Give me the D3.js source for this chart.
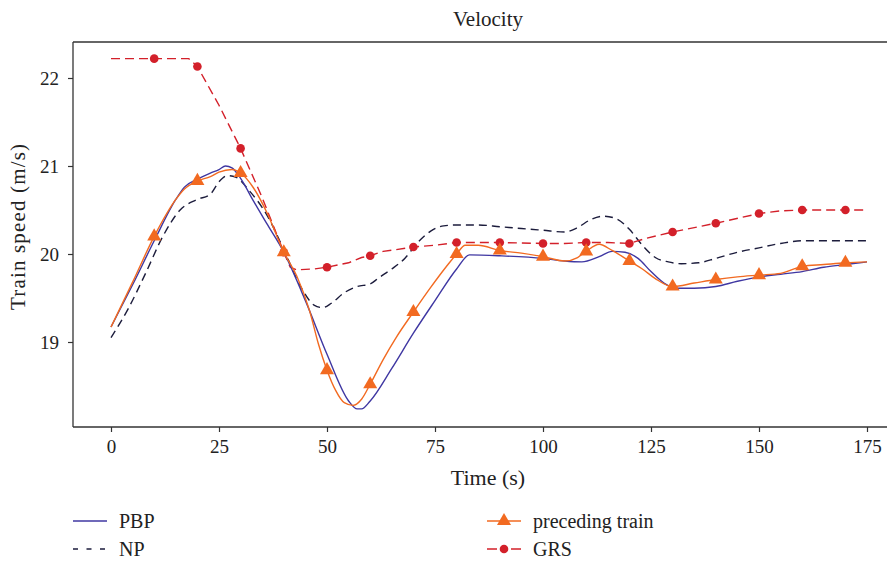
<!DOCTYPE html>
<html>
<head>
<meta charset="utf-8">
<script src="https://cdn.jsdelivr.net/npm/d3@7"></script>
<style>
  html, body { margin: 0; padding: 0; background: #fff; }
  svg { display: block; }
  text { font-family: "Liberation Serif", "Times New Roman", serif; fill: #222; }
</style>
</head>
<body>
<svg id="chart" width="887" height="561"></svg>
<script>
// ---- data ----------------------------------------------------------
const xTicks = [0, 25, 50, 75, 100, 125, 150, 175];
const yTicks = [19, 20, 21, 22];
const markerTimes = [10, 20, 30, 40, 50, 60, 70, 80, 90, 100, 110, 120, 130, 140, 150, 160, 170];

// PBP controlled train
const pbpTime  = [0, 5, 10, 15, 17, 20, 23, 25, 26.5, 28, 30, 33, 36, 40, 45, 50, 55, 57, 58, 60, 65, 70, 75, 80, 83, 90, 100, 105, 109, 113, 116, 119, 122, 125, 128, 131, 135, 140, 145, 150, 155, 160, 165, 170, 175];
const pbpSpeed = [19.17, 19.65, 20.15, 20.62, 20.76, 20.85, 20.92, 20.96, 21.0, 20.98, 20.86, 20.6, 20.35, 20.02, 19.47, 18.86, 18.33, 18.24, 18.24, 18.33, 18.7, 19.1, 19.47, 19.83, 19.99, 19.98, 19.95, 19.92, 19.91, 19.97, 20.03, 20.02, 19.95, 19.8, 19.67, 19.61, 19.61, 19.63, 19.69, 19.74, 19.77, 19.8, 19.85, 19.88, 19.91];

// NP controlled train
const npTime  = [0, 4, 8, 12, 16, 20, 23, 25, 27, 29, 32, 36, 40, 44, 47, 49, 51, 54, 57, 60, 62, 65, 68, 71, 74, 77, 80, 85, 90, 95, 100, 105, 108, 111, 114, 117, 120, 123, 126, 129, 132, 136, 140, 145, 150, 155, 160, 165, 170, 175];
const npSpeed = [19.05, 19.38, 19.78, 20.2, 20.5, 20.62, 20.68, 20.82, 20.89, 20.87, 20.72, 20.45, 20.05, 19.62, 19.42, 19.39, 19.44, 19.56, 19.63, 19.66, 19.73, 19.83, 19.95, 20.13, 20.26, 20.32, 20.33, 20.33, 20.31, 20.29, 20.27, 20.25, 20.3, 20.39, 20.43, 20.4, 20.28, 20.1, 19.96, 19.91, 19.89, 19.9, 19.95, 20.02, 20.07, 20.12, 20.15, 20.15, 20.15, 20.15];

// preceding train
const precTime  = [0, 5, 10, 15, 17, 20, 23, 25, 28, 30, 33, 36, 40, 43, 46, 48, 50, 52, 54, 56, 58, 60, 63, 66, 70, 74, 78, 80, 82, 85, 90, 95, 100, 105, 108, 110, 113, 116, 120, 123, 126, 130, 135, 140, 145, 150, 155, 160, 165, 170, 175];
const precSpeed = [19.17, 19.68, 20.2, 20.62, 20.74, 20.83, 20.88, 20.93, 20.96, 20.92, 20.75, 20.48, 20.02, 19.75, 19.35, 18.98, 18.68, 18.45, 18.31, 18.28, 18.35, 18.52, 18.8, 19.05, 19.34, 19.62, 19.88, 20.0, 20.1, 20.1, 20.04, 20.01, 19.97, 19.92, 19.96, 20.03, 20.11, 20.04, 19.92, 19.83, 19.72, 19.63, 19.67, 19.71, 19.74, 19.76, 19.78, 19.86, 19.88, 19.9, 19.91];

// GRS controlled train
const grsTime  = [0, 10, 18, 20, 25, 30, 35, 40, 41.5, 43, 47, 50, 55, 58, 60, 63, 66, 70, 75, 80, 90, 100, 105, 110, 115, 120, 124, 130, 140, 150, 155, 160, 170, 175];
const grsSpeed = [22.22, 22.22, 22.22, 22.13, 21.69, 21.2, 20.64, 20.02, 19.85, 19.82, 19.83, 19.85, 19.9, 19.96, 19.98, 20.03, 20.05, 20.08, 20.1, 20.13, 20.13, 20.12, 20.12, 20.13, 20.13, 20.12, 20.18, 20.25, 20.35, 20.46, 20.49, 20.5, 20.5, 20.5];

// ---- layout --------------------------------------------------------
const frame = { left: 73, top: 42, right: 887, bottom: 427 };
const svg = d3.select("#chart");

const x = d3.scaleLinear().domain([0, 175]).range([111, 867]);
const y = d3.scaleLinear().domain([19, 22]).range([342, 78]);

const colors = { pbp: "#3f37a2", np: "#1c1c3c", prec: "#f26a21", grs: "#d3202a" };

// frame lines (top, left, bottom)
const frameG = svg.append("g").attr("stroke", "#333").attr("stroke-width", 1.3);
frameG.append("line").attr("x1", frame.left).attr("x2", frame.right).attr("y1", frame.top).attr("y2", frame.top);
frameG.append("line").attr("x1", frame.left).attr("x2", frame.left).attr("y1", frame.top).attr("y2", frame.bottom);
frameG.append("line").attr("x1", frame.left).attr("x2", frame.right).attr("y1", frame.bottom).attr("y2", frame.bottom);

// axes
const xAxis = svg.append("g")
  .attr("transform", `translate(0,${frame.bottom})`)
  .call(d3.axisBottom(x).tickValues(xTicks).tickSize(5).tickPadding(8).tickFormat(d3.format("d")));
const yAxis = svg.append("g")
  .attr("transform", `translate(${frame.left},0)`)
  .call(d3.axisLeft(y).tickValues(yTicks).tickSize(5).tickPadding(9).tickFormat(d3.format("d")));
[xAxis, yAxis].forEach(g => {
  g.select(".domain").remove();
  g.selectAll(".tick line").attr("stroke", "#333").attr("stroke-width", 1.2);
  g.selectAll(".tick text").attr("font-size", 19).attr("fill", "#222")
    .attr("font-family", '"Liberation Serif", "Times New Roman", serif');
});

// titles
svg.append("text").attr("x", 488).attr("y", 26).attr("text-anchor", "middle")
  .attr("font-size", 21).text("Velocity");
svg.append("text").attr("x", 488).attr("y", 485).attr("text-anchor", "middle")
  .attr("font-size", 22).text("Time (s)");
svg.append("text").attr("transform", "translate(25,227) rotate(-90)").attr("text-anchor", "middle")
  .attr("font-size", 21).attr("textLength", 166).attr("lengthAdjust", "spacing")
  .text("Train speed (m/s)");

// lines
const zip = (t, v) => t.map((ti, i) => [ti, v[i]]);
const smooth = d3.line().x(d => x(d[0])).y(d => y(d[1])).curve(d3.curveMonotoneX);
const straight = d3.line().x(d => x(d[0])).y(d => y(d[1])).curve(d3.curveLinear);

const series = [
  { key: "np",   data: zip(npTime, npSpeed),     dash: "8,5", gen: smooth },
  { key: "grs",  data: zip(grsTime, grsSpeed),   dash: "9,5", gen: straight },
  { key: "pbp",  data: zip(pbpTime, pbpSpeed),   dash: null,  gen: smooth },
  { key: "prec", data: zip(precTime, precSpeed), dash: null,  gen: smooth }
];

const plot = svg.append("g");
series.forEach(s => {
  plot.append("path")
    .datum(s.data)
    .attr("fill", "none")
    .attr("stroke", colors[s.key])
    .attr("stroke-width", 1.4)
    .attr("stroke-dasharray", s.dash)
    .attr("d", s.gen);
});

// markers at every 10 s
const pick = data => data.filter(d => markerTimes.includes(d[0]));
const tri = d3.symbol().type(d3.symbolTriangle).size(85);

plot.selectAll(".grs-dot").data(pick(zip(grsTime, grsSpeed))).join("circle")
  .attr("cx", d => x(d[0])).attr("cy", d => y(d[1])).attr("r", 4.3)
  .attr("fill", colors.grs);
plot.selectAll(".prec-tri").data(pick(zip(precTime, precSpeed))).join("path")
  .attr("transform", d => `translate(${x(d[0])},${y(d[1])})`)
  .attr("d", tri).attr("fill", colors.prec);

// legend
const legend = [
  { key: "pbp",  label: "PBP",             x: 73,  y: 521, dash: null,       marker: null },
  { key: "np",   label: "NP",              x: 73,  y: 549, dash: "5,8.5",    marker: null },
  { key: "prec", label: "preceding train", x: 487, y: 521, dash: null,       marker: "tri" },
  { key: "grs",  label: "GRS",             x: 487, y: 549, dash: "10,14,10", marker: "dot" }
];
const lg = svg.append("g");
legend.forEach(l => {
  lg.append("line").attr("x1", l.x).attr("x2", l.x + 34).attr("y1", l.y).attr("y2", l.y)
    .attr("stroke", colors[l.key]).attr("stroke-width", 1.4).attr("stroke-dasharray", l.dash);
  if (l.marker === "tri") {
    lg.append("path").attr("transform", `translate(${l.x + 17},${l.y})`).attr("d", tri).attr("fill", colors[l.key]);
  } else if (l.marker === "dot") {
    lg.append("circle").attr("cx", l.x + 17).attr("cy", l.y).attr("r", 4.3).attr("fill", colors[l.key]);
  }
  lg.append("text").attr("x", l.x + 46).attr("y", l.y + 6.5).attr("font-size", 20).text(l.label);
});
</script>
</body>
</html>
